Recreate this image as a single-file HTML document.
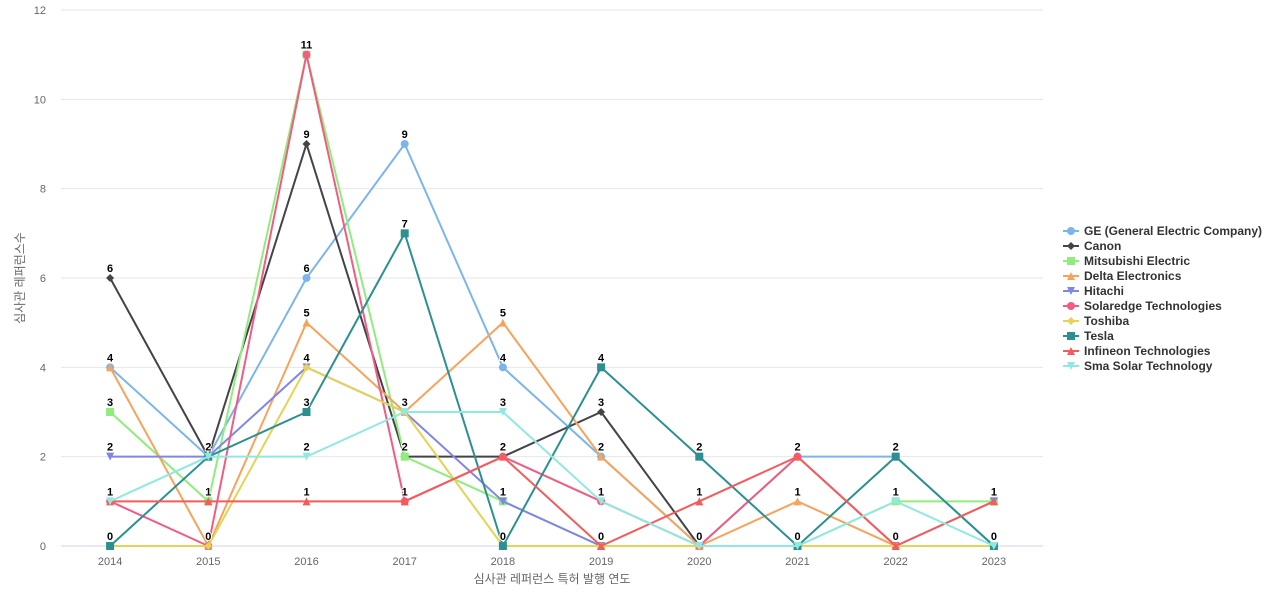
<!DOCTYPE html>
<html><head><meta charset="utf-8"><style>
body{margin:0;background:#fff;font-family:"Liberation Sans","Noto Sans CJK KR",sans-serif}
svg text{font-family:"Liberation Sans","Noto Sans CJK KR",sans-serif}
</style></head><body>
<svg id="c" width="1280" height="600"></svg>
<script>
const years=[2014,2015,2016,2017,2018,2019,2020,2021,2022,2023];
const yTicks=[0,2,4,6,8,10,12];
const names=["GE (General Electric Company)","Canon","Mitsubishi Electric","Delta Electronics","Hitachi","Solaredge Technologies","Toshiba","Tesla","Infineon Technologies","Sma Solar Technology"];
const colors=["#7cb5ec","#434348","#90ed7d","#f7a35c","#8085e9","#f15c80","#e4d354","#2b908f","#f45b5b","#91e8e1"];
const markers=["circle","diamond","square","triangle","triangle-down","circle","diamond","square","triangle","triangle-down"];
const ge=[4,2,6,9,4,2,0,2,2,0];
const canon=[6,2,9,2,2,3,0,0,0,0];
const mitsubishi=[3,1,11,2,1,0,0,0,1,1];
const delta=[4,0,5,3,5,2,0,1,0,0];
const hitachi=[2,2,4,3,1,0,0,0,0,1];
const solaredge=[1,0,11,1,2,1,0,2,0,0];
const toshiba=[0,0,4,3,0,0,0,0,0,0];
const tesla=[0,2,3,7,0,4,2,0,2,0];
const infineon=[1,1,1,1,2,0,1,2,0,1];
const sma=[1,2,2,3,3,1,0,0,1,0];
const series=[ge,canon,mitsubishi,delta,hitachi,solaredge,toshiba,tesla,infineon,sma];
const NS="http://www.w3.org/2000/svg";
const svg=document.getElementById('c');
const L=61,R=1043,T=10,B=546;
const step=(R-L)/years.length;
const x=i=>L+step*(i+0.5);
const y=v=>B-(v/12)*(B-T);
function mk(t,a,p){const e=document.createElementNS(NS,t);for(const k in a)e.setAttribute(k,a[k]);(p||svg).appendChild(e);return e;}
yTicks.forEach(v=>{
 const g=mk('line',{x1:L,x2:R,y1:y(v),y2:y(v),stroke:v==0?'#ccd6eb':'#e6e6e6','stroke-width':1});
 
 
 const t=mk('text',{x:46,y:y(v)+4,'text-anchor':'end','font-size':11,fill:'#666'});t.textContent=v;
 
 
});
years.forEach((yr,i)=>{
 const t=mk('text',{x:x(i),y:565,'text-anchor':'middle','font-size':11,fill:'#666'});t.textContent=yr;
 
 
});
const xt=mk('text',{x:552,y:583,'text-anchor':'middle','font-size':12,fill:'#666'});xt.textContent='심사관 레퍼런스 특허 발행 연도';


const yt=mk('text',{x:24,y:278,'text-anchor':'middle','font-size':12,fill:'#666',transform:'rotate(-90 24 278)'});yt.textContent='심사관 레퍼런스수';


function marker(type,cx,cy,col,p){
 let e;
 if(type=='circle')e=mk('circle',{cx,cy,r:4,fill:col},p);
 else if(type=='square')e=mk('rect',{x:cx-4,y:cy-4,width:8,height:8,fill:col},p);
 else if(type=='diamond')e=mk('path',{d:`M${cx} ${cy-4}L${cx+4} ${cy}L${cx} ${cy+4}L${cx-4} ${cy}Z`,fill:col},p);
 else if(type=='triangle')e=mk('path',{d:`M${cx} ${cy-4}L${cx+4} ${cy+4}L${cx-4} ${cy+4}Z`,fill:col},p);
 else e=mk('path',{d:`M${cx-4} ${cy-4}L${cx+4} ${cy-4}L${cx} ${cy+4}Z`,fill:col},p);
 return e;
}
const seen={};
series.forEach((s,si)=>{
 const g=mk('g',{});
 
 
 const pl=mk('polyline',{points:s.map((v,i)=>x(i)+','+y(v)).join(' '),fill:'none',stroke:colors[si],'stroke-width':2},g);
 
 
 s.forEach((v,i)=>{
  const m=marker(markers[si],x(i),y(v),colors[si],g);
  
  
 });
});
series.forEach((s,si)=>{
 s.forEach((v,i)=>{
  const k=i+'_'+v;if(seen[k])return;seen[k]=1;
  const t=mk('text',{x:x(i),y:y(v)-6,'text-anchor':'middle','font-size':11,'font-weight':'bold',fill:'#000',stroke:'#fff','stroke-width':2,'paint-order':'stroke'});
  t.textContent=v;
  
  
 });
});
names.forEach((n,i)=>{
 const g=mk('g',{});
 
 
 const ly=231+i*15;
 mk('line',{x1:1063,x2:1079,y1:ly,y2:ly,stroke:colors[i],'stroke-width':2},g);
 marker(markers[i],1071,ly,colors[i],g);
 const t=mk('text',{x:1084,y:ly+4,'font-size':12,'font-weight':'bold',fill:'#333'},g);t.textContent=n;
});
</script>
</body></html>
